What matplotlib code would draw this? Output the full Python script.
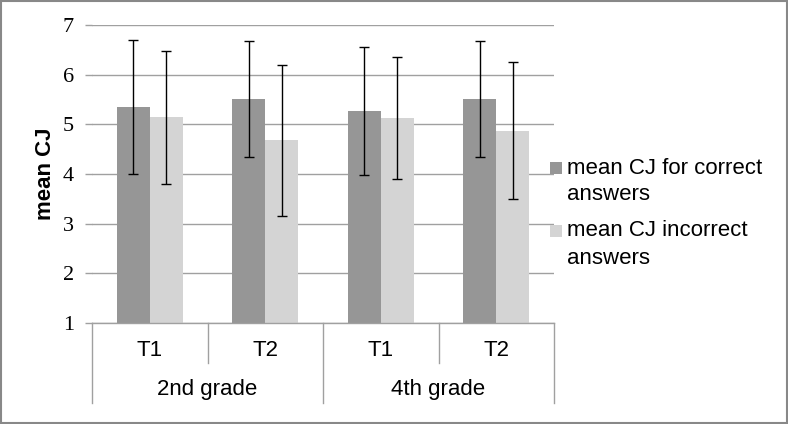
import matplotlib
matplotlib.use("Agg")
import matplotlib.pyplot as plt
from matplotlib.patches import Rectangle
from matplotlib.transforms import blended_transform_factory
import numpy as np

# ---- data ----
subcats = ["T1", "T2", "T1", "T2"]
groups = ["2nd grade", "4th grade"]
series_names = ["mean CJ for correct\nanswers", "mean CJ incorrect\nanswers"]
correct_mean = [5.35, 5.51, 5.27, 5.51]
correct_err = [1.35, 1.16, 1.29, 1.16]
incorrect_mean = [5.14, 4.68, 5.12, 4.87]
incorrect_err = [1.34, 1.52, 1.23, 1.38]
yticks = [1, 2, 3, 4, 5, 6, 7]

W, H = 788, 424
fig = plt.figure(figsize=(W / 100, H / 100), dpi=100)
fig.patch.set_facecolor("white")

ax = fig.add_axes([92 / W, (H - 323) / H, 462 / W, 298 / H])
grid_c = "#a0a0a0"
c_dark = "#969696"
c_light = "#d4d4d4"

x = np.arange(len(subcats)) + 0.5
bw = 0.2857
ax.set_ylim(1, 7)
ax.set_xlim(0, len(subcats))
ax.bar(x - bw / 2, np.array(correct_mean) - 1, bw, bottom=1, color=c_dark, zorder=2)
ax.bar(x + bw / 2, np.array(incorrect_mean) - 1, bw, bottom=1, color=c_light, zorder=2)
ax.errorbar(x - bw / 2, correct_mean, yerr=correct_err, fmt="none", ecolor="black",
            elinewidth=1.0, capsize=3.6, capthick=1.0, zorder=3)
ax.errorbar(x + bw / 2, incorrect_mean, yerr=incorrect_err, fmt="none", ecolor="black",
            elinewidth=1.0, capsize=3.6, capthick=1.0, zorder=3)

ax.set_yticks(yticks)
ax.set_yticklabels([str(v) for v in yticks], family="Liberation Serif", fontsize=16)
ax.yaxis.grid(True, color=grid_c, linewidth=1.0, zorder=0)
ax.set_axisbelow(True)
ax.tick_params(axis="y", length=5, color=grid_c, width=1.0, pad=8)
ax.set_xticks([])
for s in ["top", "right", "left"]:
    ax.spines[s].set_visible(False)
ax.spines["bottom"].set_color(grid_c)
ax.spines["bottom"].set_linewidth(1.0)

ax.set_ylabel("mean CJ", family="Liberation Sans", fontsize=16, fontweight="bold", labelpad=5)

# category axis (two levels)
tr = blended_transform_factory(ax.transData, ax.transAxes)
lvl1 = -40 / 298
lvl2 = -80 / 298
for i in range(len(subcats) + 1):
    bottom = lvl2 if i % 2 == 0 else lvl1
    ax.plot([i, i], [0, bottom], transform=tr, color=grid_c, lw=1.0, clip_on=False)
for i, lab in enumerate(subcats):
    ax.text(i + 0.5, -27 / 298, lab, transform=tr, ha="center", va="center",
            family="Liberation Sans", fontsize=16)
for g, lab in enumerate(groups):
    ax.text(2 * g + 1, -67 / 298, lab, transform=tr, ha="center", va="center",
            family="Liberation Sans", fontsize=16)

# legend (manual)
leg_y = [168, 231]
for name, col, yc in zip(series_names, [c_dark, c_light], leg_y):
    fig.patches.append(Rectangle((550 / W, (H - yc - 6) / H), 12 / W, 12 / H,
                                 transform=fig.transFigure, facecolor=col, edgecolor="none"))
    fig.text(567 / W, (H - yc) / H, name.split("\n")[0], ha="left", va="center",
             family="Liberation Sans", fontsize=16)
    fig.text(567 / W, (H - yc - 27) / H, name.split("\n")[1], ha="left", va="center",
             family="Liberation Sans", fontsize=16)

# outer border
fig.patches.append(Rectangle((1 / W, 1 / H), (W - 2) / W, (H - 2) / H, transform=fig.transFigure,
                             fill=False, edgecolor="#888888", linewidth=1.5))

fig.savefig("out.png", dpi=100)
